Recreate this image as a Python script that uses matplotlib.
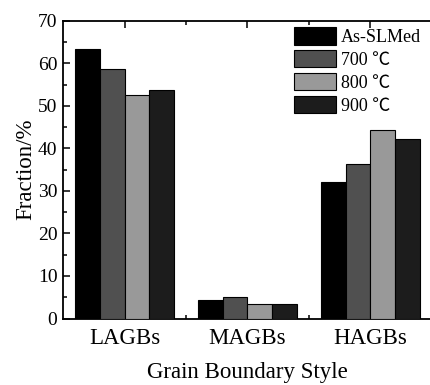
"""Grouped bar chart of grain boundary fractions for the as-built and heat treated states."""
import numpy as np
from matplotlib import pyplot as plt
from matplotlib.ticker import MultipleLocator, FixedLocator

plt.rcParams['font.family'] = ['Liberation Serif', 'Noto Sans CJK SC']

categories = ['LAGBs', 'MAGBs', 'HAGBs']
conditions = ['As-SLMed', '700 ℃', '800 ℃', '900 ℃']
as_slmed = [63.3, 4.35, 32.2]
t700 = [58.6, 5.1, 36.3]
t800 = [52.5, 3.3, 44.2]
t900 = [53.7, 3.4, 42.2]
series = [as_slmed, t700, t800, t900]
colors = ['#000000', '#505050', '#999999', '#1c1c1c']

fig = plt.figure(figsize=(4.31, 3.85), dpi=100)
ax = fig.add_axes([0.1462, 0.1727, 0.8538, 0.7735])

x = np.arange(1, len(categories) + 1)
w = 0.2
for i in range(len(series)):
    ax.bar(x + (i - 1.5) * w, series[i], w, color=colors[i], edgecolor='black',
           linewidth=0.8, label=conditions[i], zorder=3)

ax.set_xlim(0.5, 3.492)
ax.set_ylim(0, 70)
ax.set_xticks(x)
ax.set_xticklabels(categories)
ax.xaxis.set_minor_locator(FixedLocator([1.5, 2.5]))
ax.yaxis.set_major_locator(MultipleLocator(10))
ax.yaxis.set_minor_locator(MultipleLocator(5))
ax.tick_params(which='both', direction='in', top=True, right=False, width=1.1)
ax.tick_params(which='major', length=5)
ax.tick_params(which='minor', length=3)
ax.tick_params(axis='y', labelsize=14, pad=4)
ax.tick_params(axis='x', labelsize=16.5, pad=7)
for s in ['left', 'bottom', 'top']:
    ax.spines[s].set_linewidth(1.3)
ax.spines['right'].set_visible(False)

ax.set_ylabel('Fraction/%', fontsize=16.5, labelpad=1)
ax.set_xlabel('Grain Boundary Style', fontsize=16.5, labelpad=9)

fig.legend(loc='upper left', bbox_to_anchor=(294 / 431, 1 - 27 / 385),
           frameon=False, fontsize=13, handlelength=2.3, handleheight=1.12,
           labelspacing=0.22, handletextpad=0.3, borderpad=0, borderaxespad=0)

plt.savefig('out.png', dpi=100)
